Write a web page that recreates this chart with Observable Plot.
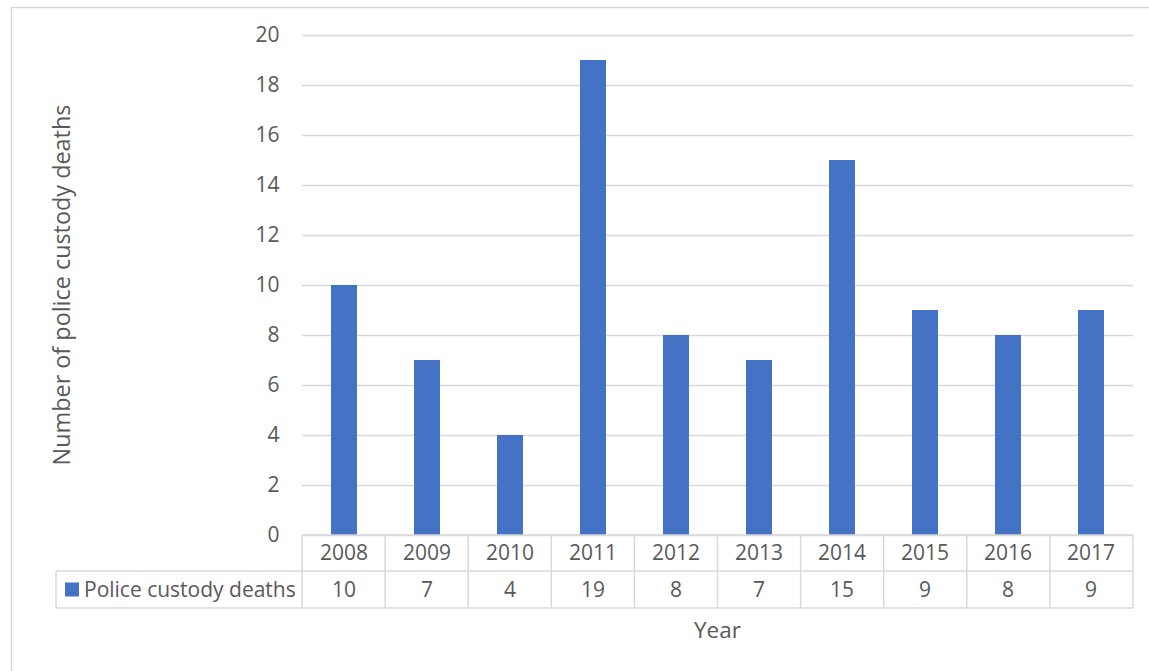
<!DOCTYPE html>
<html>
<head>
<meta charset="utf-8">
<script src="https://cdn.jsdelivr.net/npm/d3@7"></script>
<script src="https://cdn.jsdelivr.net/npm/@observablehq/plot@0.6"></script>
<style>
  html, body { margin: 0; padding: 0; background: #fff; }
  #chart { width: 1149px; height: 671px; overflow: hidden; }
</style>
</head>
<body>
<div id="chart"></div>
<script>
const years = ["2008","2009","2010","2011","2012","2013","2014","2015","2016","2017"];
const deaths = [10, 7, 4, 19, 8, 7, 15, 9, 8, 9];
const yTicks = [0, 2, 4, 6, 8, 10, 12, 14, 16, 18, 20];
const seriesName = "Police custody deaths";
const yTitle = "Number of police custody deaths";
const xTitle = "Year";

const data = years.map((y, i) => ({year: y, value: deaths[i]}));
const FONT = "'Open Sans', sans-serif";
const TEXT = "#595959";
const LINE = "#d9d9d9";
const BAR = "#4472c4";

const plot = Plot.plot({
  width: 1149,
  height: 671,
  marginLeft: 302,
  marginRight: 16,
  marginTop: 35,
  marginBottom: 136,
  style: {fontFamily: FONT, fontSize: "21px", color: TEXT, background: "#fff"},
  x: {domain: years, paddingInner: 0.69, paddingOuter: 0.345, axis: null},
  y: {domain: [0, 20], label: null},
  marks: [
    Plot.ruleY(yTicks, {stroke: LINE, strokeWidth: 1.5}),
    Plot.barY(data, {x: "year", y: "value", fill: BAR}),
    Plot.axisY({ticks: yTicks, tickSize: 0, tickPadding: 23, label: null, fontSize: 21})
  ]
});
document.getElementById("chart").appendChild(plot);

const svg = d3.select(plot);
const xs = plot.scale("x");
const ys = plot.scale("y");
const [r0, r1] = xs.range;
const step = (r1 - r0) / years.length;
const y0 = ys.apply(0);
const row1 = y0 + 36;
const row2 = row1 + 37;
const legendLeft = 56;

const g = svg.append("g").attr("fill", "none").attr("stroke", LINE).attr("stroke-width", 1.5);
g.append("line").attr("x1", r0).attr("x2", r1).attr("y1", y0).attr("y2", y0);
g.append("line").attr("x1", legendLeft).attr("x2", r1).attr("y1", row1).attr("y2", row1);
g.append("line").attr("x1", legendLeft).attr("x2", r1).attr("y1", row2).attr("y2", row2);
years.forEach((_, i) => {
  g.append("line").attr("x1", r0 + i * step).attr("x2", r0 + i * step).attr("y1", y0).attr("y2", row2);
});
g.append("line").attr("x1", r1).attr("x2", r1).attr("y1", y0).attr("y2", row2);
g.append("line").attr("x1", legendLeft).attr("x2", legendLeft).attr("y1", row1).attr("y2", row2);

// outer chart border
svg.append("rect").attr("x", 11.5).attr("y", 7.5).attr("width", 1200).attr("height", 700)
  .attr("fill", "none").attr("stroke", LINE).attr("stroke-width", 1.5);

const t = svg.append("g").attr("font-family", FONT).attr("font-size", 21).attr("fill", TEXT);
years.forEach((yr, i) => {
  const cx = xs.apply(yr) + xs.bandwidth / 2;
  t.append("text").attr("x", cx).attr("y", (y0 + row1) / 2).attr("dy", "0.35em")
    .attr("text-anchor", "middle").text(yr);
  t.append("text").attr("x", cx).attr("y", (row1 + row2) / 2).attr("dy", "0.35em")
    .attr("text-anchor", "middle").text(deaths[i]);
});
svg.append("rect").attr("x", 65).attr("y", (row1 + row2) / 2 - 7).attr("width", 14).attr("height", 14).attr("fill", BAR);
t.append("text").attr("x", 84).attr("y", (row1 + row2) / 2).attr("dy", "0.35em")
  .attr("text-anchor", "start").attr("font-size", 21).text(seriesName);

t.append("text").attr("x", (r0 + r1) / 2).attr("y", 630).attr("dy", "0.35em")
  .attr("text-anchor", "middle").attr("font-size", 22.5).text(xTitle);
const yMid = (ys.apply(0) + ys.apply(20)) / 2;
t.append("text").attr("transform", `translate(62,${yMid}) rotate(-90)`).attr("dy", "0.35em")
  .attr("text-anchor", "middle").attr("font-size", 23.4).text(yTitle);
</script>
</body>
</html>
